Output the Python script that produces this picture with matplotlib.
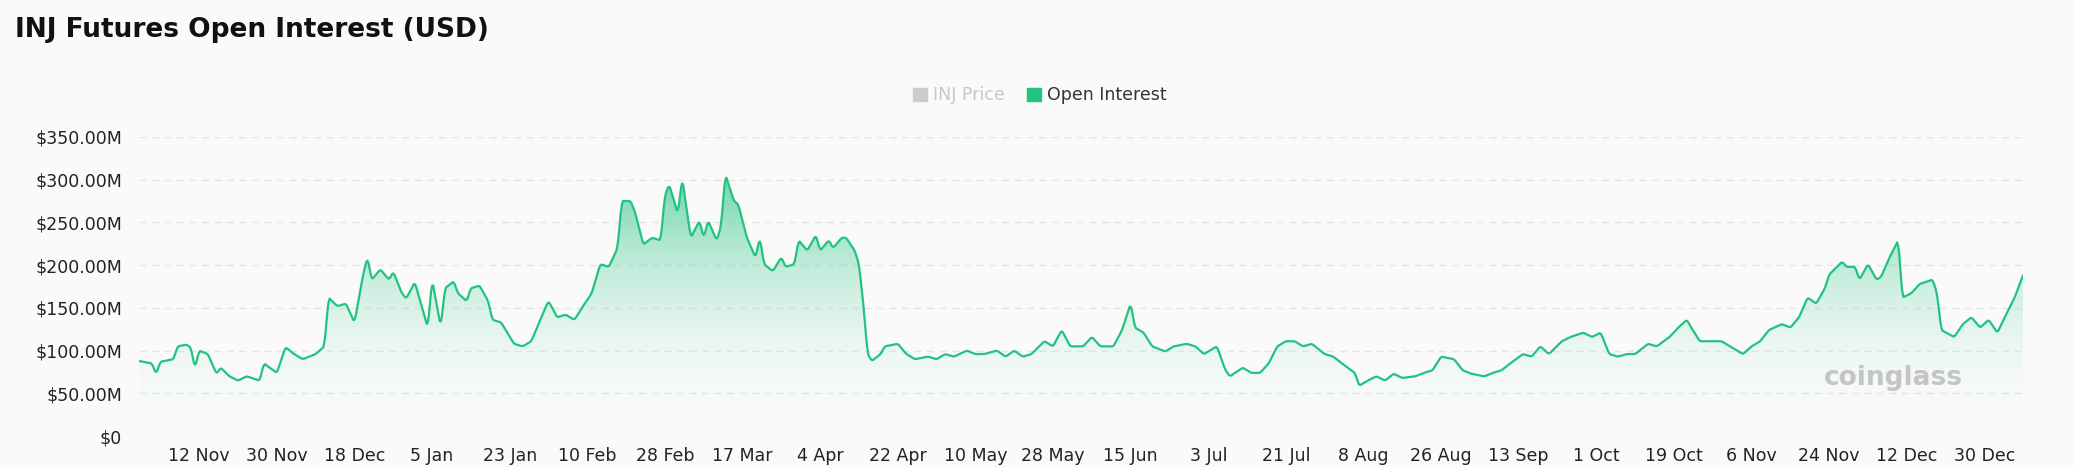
import numpy as np
import pandas as pd
import matplotlib
matplotlib.use("Agg")
import matplotlib.pyplot as plt
import matplotlib.dates as mdates
from matplotlib.patches import Polygon, Rectangle
from matplotlib.colors import LinearSegmentedColormap

start = "2023-10-29"
day_offsets = [0,3,4,5,8,9,11,12,13,14,16,18,19,21,23,25,28,29,32,34,36,38,41,43,44,46,48,50,52,53,54,56,58,59,61,62,64,65,67,68,70,71,73,74,76,77,79,81,82,84,87,89,91,94,95,97,99,101,103,105,107,109,111,112,114,115,117,119,121,122,123,125,126,127,128,130,131,132,134,135,136,138,139,141,143,144,145,147,149,150,152,153,155,157,158,160,161,163,164,166,167,168,169,170,172,173,176,178,180,183,185,187,189,192,194,196,199,201,203,205,207,210,212,214,216,219,221,223,226,228,230,231,233,235,238,240,243,245,247,250,252,253,256,258,260,262,264,266,268,270,272,275,277,279,282,283,285,287,289,291,293,296,298,300,302,305,307,309,312,314,316,318,321,323,325,327,330,332,335,337,339,341,343,345,347,350,352,355,357,359,360,362,364,367,369,372,374,376,378,381,383,385,387,389,391,392,395,396,398,399,401,403,404,406,408,409,411,413,416,417,418,421,423,425,427,429,431,433,435,437]
open_interest_m = [88,85,73,87,90,105,107,104,80,100,96,73,80,70,65,70,65,85,74,104,96,90,96,105,162,152,155,133,189,209,183,195,183,192,167,161,180,162,127,183,128,173,181,167,158,173,176,158,136,133,108,105,111,147,158,139,142,136,152,167,201,198,220,275,275,263,224,232,229,282,294,260,302,266,232,252,232,252,229,245,306,275,271,232,209,232,201,193,209,198,201,229,217,235,217,229,220,232,232,217,201,155,96,88,96,105,108,96,90,93,90,96,93,100,96,96,100,93,100,93,96,111,105,124,105,105,116,105,105,124,155,127,121,105,99,105,108,105,96,105,77,70,80,74,74,85,105,111,111,105,108,96,93,85,74,59,65,70,65,73,68,70,74,77,93,90,77,73,70,74,77,85,96,93,105,96,111,116,121,116,121,96,93,96,96,108,105,116,127,136,127,111,111,111,105,96,105,111,124,131,127,139,162,155,173,189,204,198,198,183,201,183,186,209,229,162,167,178,183,167,124,116,131,139,127,136,121,142,162,189]
tick_labels = ["12 Nov","30 Nov","18 Dec","5 Jan","23 Jan","10 Feb","28 Feb","17 Mar","4 Apr","22 Apr","10 May","28 May","15 Jun","3 Jul","21 Jul","8 Aug","26 Aug","13 Sep","1 Oct","19 Oct","6 Nov","24 Nov","12 Dec","30 Dec"]
tick_dates = pd.date_range("2023-11-12", periods=len(tick_labels), freq="18D")
y_ticks = [0, 50, 100, 150, 200, 250, 300, 350]

dates = pd.Timestamp(start) + pd.to_timedelta(day_offsets, unit="D")
fine = pd.date_range(dates[0], dates[-1], freq="6h")
xf = mdates.date2num(fine)
xd = mdates.date2num(dates)
yf = np.interp(xf, xd, open_interest_m)
k = np.ones(3) / 3
yf = np.convolve(np.pad(yf, 1, mode="edge"), k, mode="valid")

bg = "#fafafa"
line_c = "#22c382"
fig = plt.figure(figsize=(20.73, 4.67), dpi=100, facecolor=bg)
ax = fig.add_axes([0.067, 0.066, 0.909, 0.641], facecolor=bg)
ax.set_ylim(0, 350)
ax.set_xlim(xf[0], xf[-1])

grad = np.linspace(0, 1, 256).reshape(-1, 1)
cmap = LinearSegmentedColormap.from_list("g", [(1, 1, 1, 0.0), (0.13, 0.76, 0.51, 0.62)])
im = ax.imshow(grad, cmap=cmap, aspect="auto", origin="lower",
               extent=[xf[0], xf[-1], 0, 300], zorder=1)
poly = Polygon(np.column_stack([np.r_[xf[0], xf, xf[-1]], np.r_[0, yf, 0]]),
               closed=True, transform=ax.transData, facecolor="none", edgecolor="none")
ax.add_patch(poly)
im.set_clip_path(poly)
ax.plot(xf, yf, color=line_c, lw=1.6, zorder=3)

ax.set_yticks(y_ticks)
ax.set_yticklabels([f"${v:.2f}M" if v else "$0" for v in y_ticks], fontsize=12.5, color="#222")
ax.set_xticks(mdates.date2num(tick_dates))
ax.set_xticklabels(tick_labels, fontsize=12.5, color="#222")
ax.tick_params(length=0, pad=8)
ax.yaxis.set_tick_params(pad=12)
ax.grid(axis="y", color="#e4e4e4", ls=(0, (5, 4)), lw=1)
ax.set_axisbelow(True)
for s in ax.spines.values():
    s.set_visible(False)

fig.text(0.007, 0.935, "INJ Futures Open Interest (USD)", fontsize=19, fontweight="bold", color="#111", va="center")
fig.patches.append(Rectangle((0.4405, 0.784), 0.0065, 0.028, transform=fig.transFigure, color="#cccccc"))
fig.text(0.45, 0.797, "INJ Price", fontsize=12.5, color="#c8c8c8", va="center")
fig.patches.append(Rectangle((0.4955, 0.784), 0.0065, 0.028, transform=fig.transFigure, color=line_c))
fig.text(0.505, 0.797, "Open Interest", fontsize=12.5, color="#333", va="center")
fig.text(0.88, 0.19, "coinglass", fontsize=19, fontweight="bold", color="#c4c4c4", va="center")

fig.savefig("out.png", dpi=100, facecolor=bg)
